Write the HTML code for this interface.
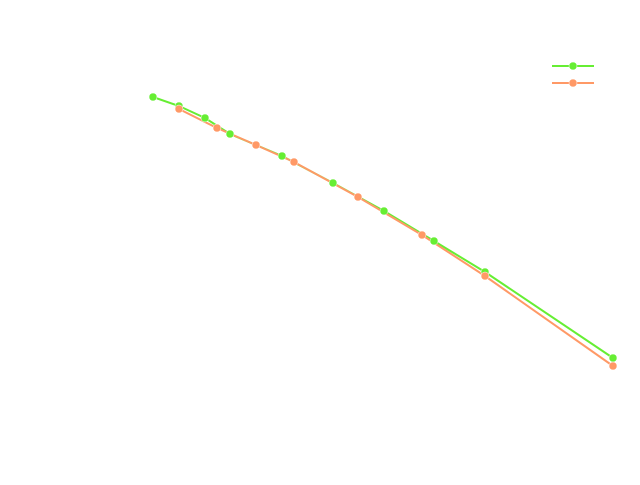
<!DOCTYPE html>
<html><head><style>html,body{margin:0;padding:0;background:#fff}</style></head>
<body>
<svg width="640" height="480" xmlns="http://www.w3.org/2000/svg">
<g fill="none" stroke-width="2">
<polyline stroke="#66ee33" points="153,97 179,106 205,118 230,134 282,156 333,183 384,211 434,241 485,272 613,358"/>
<polyline stroke="#ff9966" points="179,109 217,128 256,145 294,162 358,197 422,235 485,276 613,366"/>
<line x1="552" y1="66" x2="594" y2="66" stroke="#66ee33"/>
<line x1="552" y1="83" x2="594" y2="83" stroke="#ff9966"/>
</g>
<g fill="#66ee33" stroke="#fff" stroke-width="0.5">
<circle cx="153" cy="97" r="4"/><circle cx="179" cy="106" r="4"/><circle cx="205" cy="118" r="4"/><circle cx="230" cy="134" r="4"/><circle cx="282" cy="156" r="4"/><circle cx="333" cy="183" r="4"/><circle cx="384" cy="211" r="4"/><circle cx="434" cy="241" r="4"/><circle cx="485" cy="272" r="4"/><circle cx="613" cy="358" r="4"/><circle cx="573" cy="66" r="4"/>
</g>
<g fill="#ff9966" stroke="#fff" stroke-width="0.5">
<circle cx="179" cy="109" r="4"/><circle cx="217" cy="128" r="4"/><circle cx="256" cy="145" r="4"/><circle cx="294" cy="162" r="4"/><circle cx="358" cy="197" r="4"/><circle cx="422" cy="235" r="4"/><circle cx="485" cy="276" r="4"/><circle cx="613" cy="366" r="4"/><circle cx="573" cy="83" r="4"/>
</g>
</svg>
</body></html>
